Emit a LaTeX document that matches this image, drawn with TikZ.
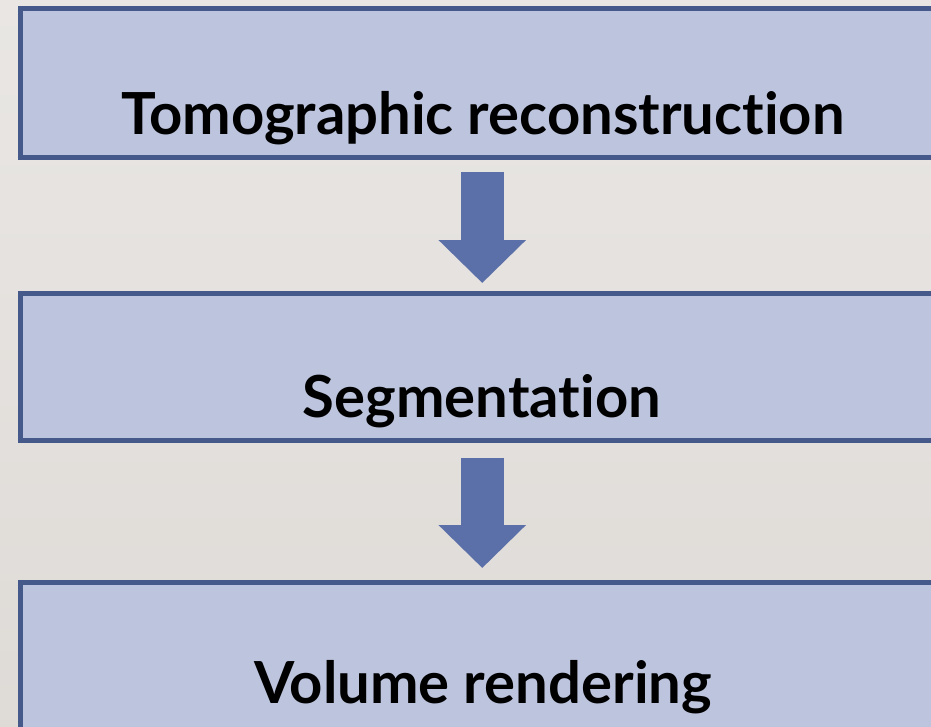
\documentclass[tikz,border=0pt]{standalone}
\usepackage{fontspec}
\setmainfont{Lato}[Ligatures=NoCommon]
\usetikzlibrary{arrows.meta,calc}
\definecolor{boxfill}{HTML}{BDC5DE}
\definecolor{boxline}{HTML}{45598A}
\definecolor{arrowfill}{HTML}{5B6FA8}
\begin{document}
	\begin{tikzpicture}[x=1pt,y=-1pt,
		stage/.style={draw=boxline,line width=4.5pt,fill=boxfill,rectangle,inner sep=0pt,minimum width=932pt,anchor=north west},
		caption/.style={anchor=base,font=\bfseries\fontsize{58}{60}\selectfont},
		flow/.style={arrowfill,line width=43pt,-{Triangle[width=85pt,length=43pt]}}]
		\useasboundingbox(0,0)rectangle(931,726);
		\clip(0,0)rectangle(931,726);
		\shade[top color=black!8!white!96!brown,bottom color=black!12!white!94!brown](0,0)rectangle(931,726);
		\node[stage,minimum height=149pt](recon)at(18,6){};
		\node[stage,minimum height=147pt](seg)at(18,291){};
		\node[stage,minimum height=180pt](vol)at(18,580){};
		\node[caption](recont)at(483,134){Tomographic reconstruction};
		\node[caption](segt)at(482,417){Segmentation};
		\node[caption](volt)at(483,703){Volume rendering};
		\draw[flow]($(recon.south)+(-4,12)$)coordinate(a0)--($(seg.north)+(-4,-8)$)coordinate(a1);
		\draw[flow]($(seg.south)+(-4,15)$)coordinate(b0)--($(vol.north)+(-4,-12)$)coordinate(b1);
	\end{tikzpicture}
\end{document}
